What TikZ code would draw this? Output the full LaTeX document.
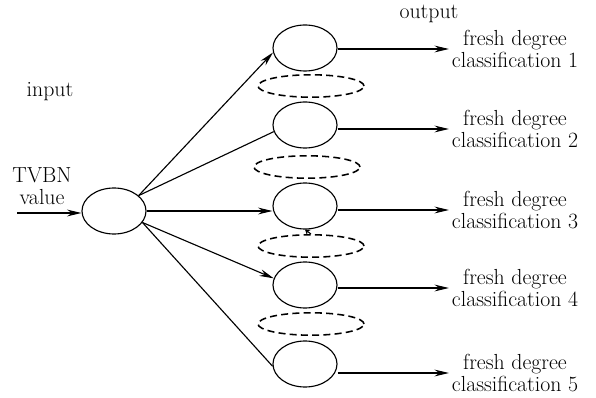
\documentclass[tikz,border=0pt]{standalone}
\usetikzlibrary{arrows.meta,shapes.geometric}
\begin{document}
\begin{tikzpicture}[x=0.025cm, y=-0.025cm, font=\fontsize{15.5}{16}\selectfont,
 plainnode/.style={ellipse, draw=black, fill=white, line width=0.8pt, minimum width=16mm, minimum height=11.5mm, inner sep=0pt},
 dashnode/.style={ellipse, draw=black, dashed, dash pattern=on 5pt off 3pt, line width=1.1pt, minimum width=26.5mm, minimum height=5.6mm, inner sep=0pt},
 textnode/.style={align=center, inner sep=2pt},
 tip/.style={-{Stealth[length=3.6mm, width=1.7mm, inset=1.2mm]}}, ]
 \useasboundingbox (0,0) rectangle (596,398);

                \node[plainnode] (in) at (114,211) {};
                \node[plainnode] (h1) at (305,48) {};
                \node[plainnode] (h2) at (305,125) {};
                \node[plainnode] (h3) at (305,206) {};
                \node[plainnode] (h4) at (305,285) {};
                \node[plainnode] (h5) at (305,364) {};

                \node[dashnode] (d1) at (311,86) {};
                \node[dashnode] (d2) at (307,167) {};
                \node[dashnode] (d3) at (311,246) {};
                \node[dashnode] (d4) at (311,324) {};

                \node[textnode] (lin) at (50,92) {input};
                \node[textnode] (lout) at (429,14) {output};
                \node[textnode] (tvbn) at (42,186) {TVBN\\value};
                \coordinate (src) at (17,213);

                \node[textnode] (c1) at (515,49) {fresh degree\\classification 1};
                \node[textnode] (c2) at (515,129) {fresh degree\\classification 2};
                \node[textnode] (c3) at (515,210) {fresh degree\\classification 3};
                \node[textnode] (c4) at (515,288) {fresh degree\\classification 4};
                \node[textnode] (c5) at (515,373) {fresh degree\\classification 5};

                 \path [black, line width=0.8pt] (src) edge[tip] (src -| in.west)
                                              (in.32) edge[tip] (h1.188)
                                                      edge (h2.192)
                                              (in.east) edge[tip] (in.east -| h3.west)
                                              (in.-22) edge[tip] (h4.168)
                                                       edge (h5.184)
                                              (h1.east |- c1.west) edge[tip] (c1.west)
                                              (h2.east |- c2.west) edge[tip] (c2.west)
                                              (h3.east |- c3.west) edge[tip] (c3.west)
                                              (h4.east |- c4.west) edge[tip] (c4.west)
                                              (h5.east |- c5.west) edge[tip] (c5.west)
                                              (d3.north) edge[-{Stealth[length=1.2mm, width=1.6mm]}] (h3.south);
\end{tikzpicture}
\end{document}
